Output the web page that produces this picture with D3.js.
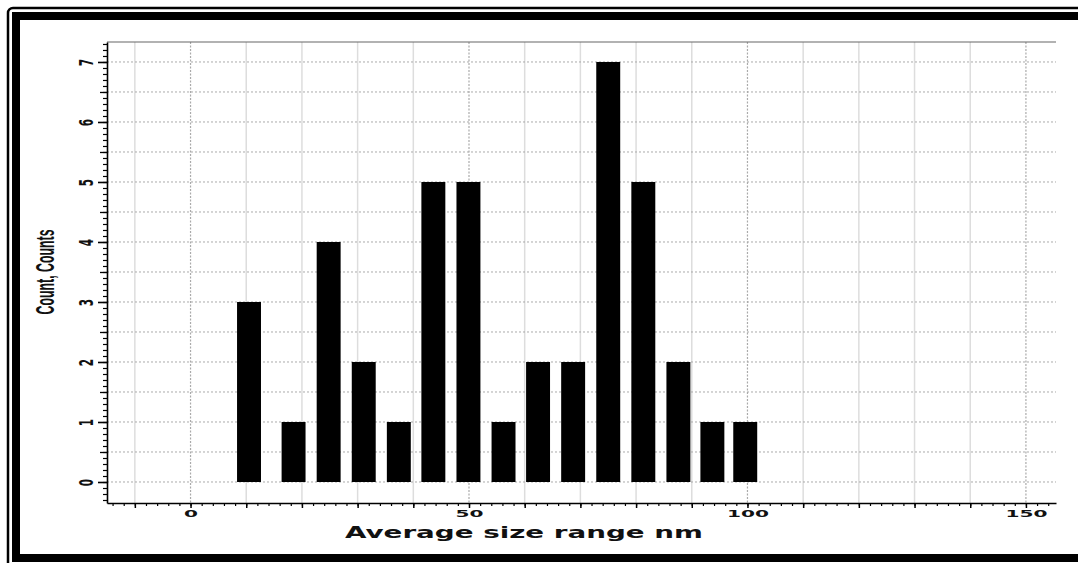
<!DOCTYPE html>
<html>
<head>
<meta charset="utf-8">
<script src="https://cdn.jsdelivr.net/npm/d3@7"></script>
<style>
  html, body { margin: 0; padding: 0; background: #fff; overflow: hidden; }
  svg { display: block; }
</style>
</head>
<body>
<script>
// ---- data ----
const binCenters = [10.5, 18.5, 24.8, 31.1, 37.4, 43.6, 49.9, 56.2, 62.4, 68.7, 75.0, 81.3, 87.6, 93.7, 99.6];
const counts     = [3, 1, 4, 2, 1, 5, 5, 1, 2, 2, 7, 5, 2, 1, 1];
const xTickLabels = [0, 50, 100, 150];
const yTickLabels = [0, 1, 2, 3, 4, 5, 6, 7];
const xTitle = "Average size range nm";
const yTitle = "Count, Counts";

// ---- layout ----
const W = 1078, H = 563;
const L = 107, R = 1056, T = 42, B = 503;
const barW = 4.3; // in x units

const svg = d3.select("body").append("svg").attr("width", W).attr("height", H);

// frame
svg.append("rect").attr("x", 0).attr("y", 0).attr("width", W).attr("height", H).attr("fill", "#fff");
svg.append("rect").attr("x", 8).attr("y", 8).attr("width", 1120).attr("height", 620)
  .attr("rx", 5).attr("fill", "none").attr("stroke", "#000").attr("stroke-width", 2.5);
svg.append("rect").attr("x", 16).attr("y", 16).attr("width", 1120).attr("height", 542)
  .attr("fill", "none").attr("stroke", "#000").attr("stroke-width", 8);

const x = d3.scaleLinear().domain([-15, 155.4]).range([L, R]);
const y = d3.scaleLinear().domain([-0.35, 7.333]).range([B, T]);

// vertical grid
const vGrid = d3.range(-10, 151, 10);
svg.append("g").selectAll("line").data(vGrid).join("line")
  .attr("x1", d => x(d)).attr("x2", d => x(d)).attr("y1", T).attr("y2", B)
  .attr("stroke", d => xTickLabels.includes(d) ? "#aaa" : "#ddd")
  .attr("stroke-width", d => xTickLabels.includes(d) ? 1.2 : 1.5)
  .attr("stroke-dasharray", d => xTickLabels.includes(d) ? "2,1.5" : null);

// horizontal grid
const hGrid = d3.range(0, 7.01, 0.5);
svg.append("g").selectAll("line").data(hGrid).join("line")
  .attr("x1", L).attr("x2", R).attr("y1", d => y(d)).attr("y2", d => y(d))
  .attr("stroke", "#aaa").attr("stroke-width", 1).attr("stroke-dasharray", "2,2");

// top border line
svg.append("line").attr("x1", L).attr("x2", R).attr("y1", T).attr("y2", T)
  .attr("stroke", "#666").attr("stroke-width", 1.2);

// bars
svg.append("g").selectAll("rect").data(binCenters).join("rect")
  .attr("x", d => x(d - barW / 2))
  .attr("width", x(barW) - x(0))
  .attr("y", (d, i) => y(counts[i]))
  .attr("height", (d, i) => y(0) - y(counts[i]))
  .attr("fill", "#000");

// x axis minor ticks
svg.append("g").attr("transform", `translate(0,${B})`)
  .call(d3.axisBottom(x).tickValues(d3.range(-14, 155, 2)).tickSize(3).tickFormat(""))
  .call(g => g.select(".domain").remove())
  .selectAll("line").attr("stroke-width", 1.2);
// x axis major
const xAx = svg.append("g").attr("transform", `translate(0,${B})`)
  .call(d3.axisBottom(x).tickValues(vGrid).tickSize(5).tickSizeOuter(0)
    .tickFormat(d => xTickLabels.includes(d) ? d : ""));
xAx.select(".domain").attr("stroke-width", 1.6);
xAx.selectAll("line").attr("stroke-width", 1.5);
xAx.selectAll("text")
  .attr("y", 14).attr("dy", 0)
  .attr("font-family", "DejaVu Sans, Verdana, sans-serif")
  .attr("font-weight", "bold").attr("font-size", 9.5).attr("fill", "#111")
  .attr("textLength", d => String(d).length * 14)
  .attr("lengthAdjust", "spacingAndGlyphs");

// y axis minor ticks
svg.append("g").attr("transform", `translate(${L},0)`)
  .call(d3.axisLeft(y).tickValues(d3.range(-3, 74, 1).map(v => v / 10)).tickSize(4).tickFormat(""))
  .call(g => g.select(".domain").remove())
  .selectAll("line").attr("stroke-width", 1.2);
svg.append("g").attr("transform", `translate(${L},0)`)
  .call(d3.axisLeft(y).tickValues(d3.range(0.5, 7, 1)).tickSize(7).tickFormat(""))
  .call(g => g.select(".domain").remove())
  .selectAll("line").attr("stroke-width", 1.3);
// y axis major
const yAx = svg.append("g").attr("transform", `translate(${L},0)`)
  .call(d3.axisLeft(y).tickValues(yTickLabels).tickSize(9).tickSizeOuter(0));
yAx.select(".domain").attr("stroke-width", 1.6);
yAx.selectAll("line").attr("stroke-width", 1.6);
yAx.selectAll("text")
  .attr("x", 0).attr("dy", 0)
  .attr("text-anchor", "middle")
  .attr("transform", "translate(-14,0) rotate(-90) scale(1,1.9)")
  .attr("font-family", "DejaVu Sans, Verdana, sans-serif")
  .attr("font-weight", "bold").attr("font-size", 10.5).attr("fill", "#111");

// titles
svg.append("text")
  .attr("x", 524).attr("y", 538)
  .attr("text-anchor", "middle")
  .attr("font-family", "DejaVu Sans, Verdana, sans-serif")
  .attr("font-weight", "bold").attr("font-size", 15).attr("fill", "#111")
  .attr("textLength", 358).attr("lengthAdjust", "spacingAndGlyphs")
  .text(xTitle);

svg.append("text")
  .attr("transform", "translate(54,272) rotate(-90) scale(1,2)")
  .attr("text-anchor", "middle")
  .attr("font-family", "Liberation Sans, Arial, sans-serif")
  .attr("font-weight", "bold").attr("font-size", 12.5).attr("fill", "#111")
  .attr("textLength", 85).attr("lengthAdjust", "spacingAndGlyphs")
  .text(yTitle);
</script>
</body>
</html>
